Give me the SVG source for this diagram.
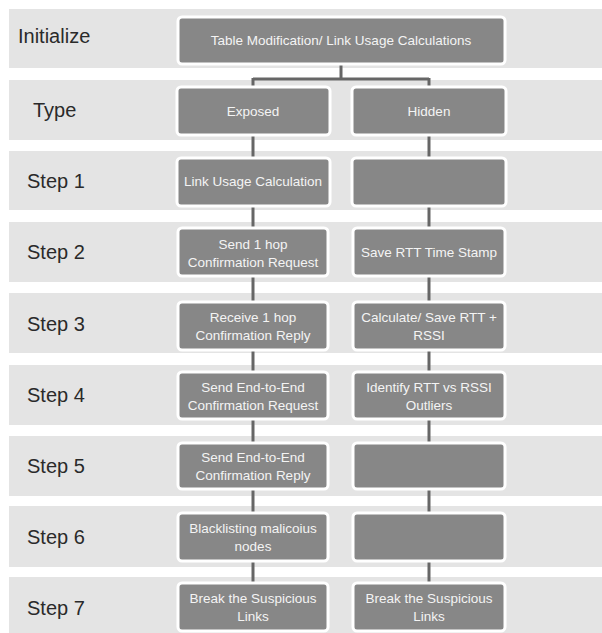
<svg xmlns="http://www.w3.org/2000/svg" width="602" height="633" viewBox="0 0 602 633">
<style>
.band{fill:#e4e4e4}
.box{fill:#878787;stroke:#ffffff;stroke-width:3}
.lbl{font-family:"Liberation Sans",Arial,sans-serif;font-size:20px;fill:#2a2a2a}
.bt{font-family:"Liberation Sans",Arial,sans-serif;font-size:13.5px;fill:#f4f4f4;text-anchor:middle}
.con{stroke:#666666;stroke-width:3;fill:none}
</style>
<rect width="602" height="633" fill="#ffffff"/>
<g id="bands">
<rect class="band" x="9" y="9" width="593" height="59"/>
<rect class="band" x="9" y="80" width="593" height="60"/>
<rect class="band" x="9" y="151" width="593" height="59"/>
<rect class="band" x="9" y="222" width="593" height="60"/>
<rect class="band" x="9" y="293" width="593" height="60"/>
<rect class="band" x="9" y="365" width="593" height="60"/>
<rect class="band" x="9" y="436" width="593" height="60"/>
<rect class="band" x="9" y="506" width="593" height="61"/>
<rect class="band" x="9" y="577" width="593" height="56"/>
</g>
<g id="labels">
<text class="lbl" x="18" y="43">Initialize</text>
<text class="lbl" x="33" y="117">Type</text>
<text class="lbl" x="27" y="188">Step 1</text>
<text class="lbl" x="27" y="259">Step 2</text>
<text class="lbl" x="27" y="331">Step 3</text>
<text class="lbl" x="27" y="402">Step 4</text>
<text class="lbl" x="27" y="473">Step 5</text>
<text class="lbl" x="27" y="544">Step 6</text>
<text class="lbl" x="27" y="615">Step 7</text>
</g>
<g id="connectors">
<path class="con" d="M341 64 V79 M253 79 H429 M253 78 V87 M429 78 V87"/>
<path class="con" d="M253 135 V158 M429 135 V158"/>
<path class="con" d="M253 206 V228 M429 206 V228"/>
<path class="con" d="M253 276 V302 M429 276 V302"/>
<path class="con" d="M253 350 V372 M429 350 V372"/>
<path class="con" d="M253 419 V443 M429 419 V443"/>
<path class="con" d="M253 489 V513 M429 489 V513"/>
<path class="con" d="M253 561 V583 M429 561 V583"/>
</g>
<g id="init">
<rect class="box" x="178" y="17" width="327" height="47" rx="4"/>
<text class="bt" x="341" y="45">Table Modification/ Link Usage Calculations</text>
</g>
<g id="exposed">
<rect class="box" x="177" y="87" width="153" height="48" rx="4"/>
<text class="bt" x="253" y="116">Exposed</text>
</g>
<g id="hidden">
<rect class="box" x="352" y="87" width="154" height="48" rx="4"/>
<text class="bt" x="429" y="116">Hidden</text>
</g>
<g id="e1">
<rect class="box" x="177" y="158" width="153" height="48" rx="4"/>
<text class="bt" x="253" y="186">Link Usage Calculation</text>
</g>
<g id="h1">
<rect class="box" x="352" y="158" width="154" height="48" rx="4"/>
</g>
<g id="e2">
<rect class="box" x="178" y="228" width="150" height="48" rx="4"/>
<text class="bt" x="253" y="249">Send 1 hop</text>
<text class="bt" x="253" y="267">Confirmation Request</text>
</g>
<g id="h2">
<rect class="box" x="353" y="228" width="152" height="48" rx="4"/>
<text class="bt" x="429" y="257">Save RTT Time Stamp</text>
</g>
<g id="e3">
<rect class="box" x="178" y="302" width="150" height="48" rx="4"/>
<text class="bt" x="253" y="322">Receive 1 hop</text>
<text class="bt" x="253" y="340">Confirmation Reply</text>
</g>
<g id="h3">
<rect class="box" x="353" y="302" width="152" height="48" rx="4"/>
<text class="bt" x="429" y="322">Calculate/ Save RTT +</text>
<text class="bt" x="429" y="340">RSSI</text>
</g>
<g id="e4">
<rect class="box" x="178" y="372" width="150" height="47" rx="4"/>
<text class="bt" x="253" y="392">Send End-to-End</text>
<text class="bt" x="253" y="410">Confirmation Request</text>
</g>
<g id="h4">
<rect class="box" x="353" y="372" width="152" height="47" rx="4"/>
<text class="bt" x="429" y="392">Identify RTT vs RSSI</text>
<text class="bt" x="429" y="410">Outliers</text>
</g>
<g id="e5">
<rect class="box" x="178" y="443" width="150" height="46" rx="4"/>
<text class="bt" x="253" y="462">Send End-to-End</text>
<text class="bt" x="253" y="480">Confirmation Reply</text>
</g>
<g id="h5">
<rect class="box" x="353" y="443" width="152" height="46" rx="4"/>
</g>
<g id="e6">
<rect class="box" x="178" y="513" width="150" height="48" rx="4"/>
<text class="bt" x="253" y="533">Blacklisting malicoius</text>
<text class="bt" x="253" y="551">nodes</text>
</g>
<g id="h6">
<rect class="box" x="353" y="513" width="152" height="48" rx="4"/>
</g>
<g id="e7">
<rect class="box" x="178" y="583" width="150" height="48" rx="4"/>
<text class="bt" x="253" y="603">Break the Suspicious</text>
<text class="bt" x="253" y="621">Links</text>
</g>
<g id="h7">
<rect class="box" x="353" y="583" width="152" height="48" rx="4"/>
<text class="bt" x="429" y="603">Break the Suspicious</text>
<text class="bt" x="429" y="621">Links</text>
</g>
</svg>
